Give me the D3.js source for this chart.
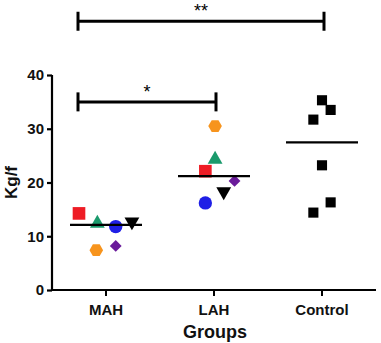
<!DOCTYPE html>
<html>
<head>
<meta charset="utf-8">
<script src="https://cdn.jsdelivr.net/npm/d3@7"></script>
<style>
  body { margin: 0; background: #fff; }
  text { font-family: "Liberation Sans", Arial, sans-serif; }
</style>
</head>
<body>
<svg id="chart"></svg>
<script>
const width = 381
const height = 343

const groups = ['MAH', 'LAH', 'Control']
const yTicks = [0, 10, 20, 30, 40]

// one value per animal, in the order of the markers below
const mahValues = [14.25, 12.4, 11.8, 12.7, 7.4, 8.2]
const lahValues = [22.1, 24.3, 16.2, 18.3, 30.5, 20.3]
const controlValues = [35.3, 33.5, 31.7, 23.2, 16.3, 14.4]

// horizontal scatter, as a share of a group's width
const mahJitter = [-0.25, -0.08, 0.09, 0.24, -0.09, 0.09]
const lahJitter = [-0.08, 0.01, -0.08, 0.09, 0.01, 0.19]
const controlJitter = [0, 0.08, -0.08, 0, 0.08, -0.08]

const markerShapes = ['square', 'triangle', 'circle', 'triangleDown', 'hexagon', 'diamond']
const markerColors = ['#ee1c25', '#1a9a6c', '#1f1fe6', '#000000', '#f7941d', '#6a1b9a']

const comparisons = [
  { from: 'MAH', to: 'LAH', label: '*', level: 35 },
  { from: 'MAH', to: 'Control', label: '**', level: 50 }
]

const svg = d3.select('#chart').attr('width', width).attr('height', height)

const x = d3.scaleBand().domain(groups).range([52, 376])
const y = d3.scaleLinear().domain([0, 40]).range([290, 75])
const cx = g => x(g) + x.bandwidth() / 2

const series = [
  { group: 'MAH', values: mahValues, jitter: mahJitter, colored: true },
  { group: 'LAH', values: lahValues, jitter: lahJitter, colored: true },
  { group: 'Control', values: controlValues, jitter: controlJitter, colored: false }
]

// y axis
const yAxis = svg.append('g')
  .attr('transform', 'translate(52,0)')
  .call(d3.axisLeft(y).tickValues(yTicks).tickSize(5).tickPadding(3))
yAxis.select('.domain').attr('stroke-width', 2.2).attr('d', `M0,${y(40)}V${y(0)}`)
yAxis.selectAll('.tick line').attr('stroke-width', 2.2)
yAxis.selectAll('.tick text')
  .attr('font-size', 15).attr('font-weight', 'bold').attr('fill', '#111')

// x axis
const xAxis = svg.append('g')
  .attr('transform', `translate(0,${y(0)})`)
  .call(d3.axisBottom(x).tickSize(6).tickPadding(8))
xAxis.select('.domain').attr('stroke-width', 2.2).attr('d', `M51,0H376`)
xAxis.selectAll('.tick line').attr('stroke-width', 2)
xAxis.selectAll('.tick text')
  .attr('font-size', 15).attr('font-weight', 'bold').attr('fill', '#111')

svg.append('text')
  .attr('x', (52 + 376) / 2 + 1).attr('y', 338)
  .attr('text-anchor', 'middle')
  .attr('font-size', 18).attr('font-weight', 'bold').attr('fill', '#111')
  .text('Groups')

svg.append('text')
  .attr('transform', `translate(17,${y(20)}) rotate(-90)`)
  .attr('text-anchor', 'middle')
  .attr('font-size', 17).attr('font-weight', 'bold').attr('fill', '#111')
  .text('Kg/f')

// markers
const symbolFor = {
  square: d3.symbol().type(d3.symbolSquare).size(160),
  circle: d3.symbol().type(d3.symbolCircle).size(140),
  triangle: d3.symbol().type(d3.symbolTriangle).size(95),
  triangleDown: d3.symbol().type(d3.symbolTriangle).size(95),
  diamond: d3.symbol().type(d3.symbolSquare).size(70),
  hexagon: null
}

function hexPath(r) {
  const pts = d3.range(6).map(i => {
    const a = Math.PI / 3 * i
    return [r * Math.cos(a), r * Math.sin(a)]
  })
  return 'M' + pts.join('L') + 'Z'
}

series.forEach(s => {
  const g = svg.append('g')
  s.values.forEach((v, i) => {
    const shape = s.colored ? markerShapes[i] : 'square'
    const color = s.colored ? markerColors[i] : '#000'
    const px = cx(s.group) + s.jitter[i] * x.bandwidth()
    let path, rot = 0
    if (shape === 'hexagon') path = hexPath(6.8)
    else path = symbolFor[shape]()
    if (shape === 'triangleDown') rot = 180
    if (shape === 'diamond') rot = 45
    const size = shape === 'square' && !s.colored ? 0.8 : 1
    g.append('path')
      .attr('d', path)
      .attr('fill', color)
      .attr('transform', `translate(${px},${y(v)}) rotate(${rot}) scale(${size})`)
  })
  // median line
  const med = d3.median(s.values)
  svg.append('line')
    .attr('x1', cx(s.group) - 36).attr('x2', cx(s.group) + 36)
    .attr('y1', y(med)).attr('y2', y(med))
    .attr('stroke', '#000').attr('stroke-width', 2.2)
})

// significance brackets
comparisons.forEach(c => {
  const x1 = cx(c.from) - 28
  const x2 = cx(c.to) + 2
  const yy = y(c.level)
  const g = svg.append('g').attr('stroke', '#000')
  g.append('line').attr('x1', x1).attr('x2', x2).attr('y1', yy).attr('y2', yy).attr('stroke-width', 3)
  g.append('line').attr('x1', x1).attr('x2', x1).attr('y1', yy - 9.5).attr('y2', yy + 9.5).attr('stroke-width', 3)
  g.append('line').attr('x1', x2).attr('x2', x2).attr('y1', yy - 9.5).attr('y2', yy + 9.5).attr('stroke-width', 3)
  svg.append('text')
    .attr('x', (x1 + x2) / 2).attr('y', yy - 4)
    .attr('text-anchor', 'middle')
    .attr('font-size', 18).attr('fill', '#000')
    .text(c.label)
})
</script>
</body>
</html>
